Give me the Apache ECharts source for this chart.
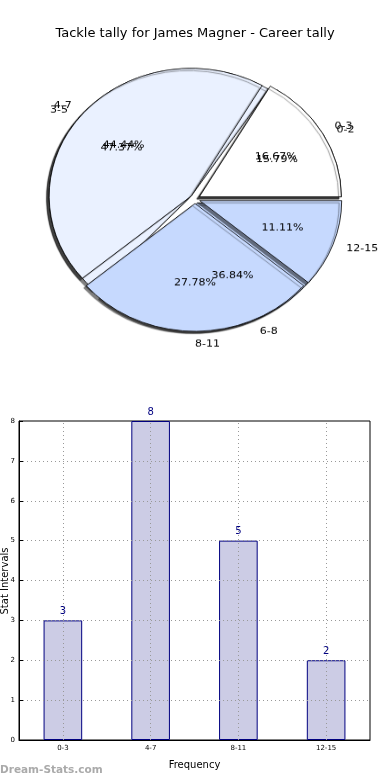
<!DOCTYPE html>
<html>
<head>
<meta charset="utf-8">
<script src="https://cdn.jsdelivr.net/npm/echarts@6/dist/echarts.min.js"></script>
<style>
html,body{margin:0;padding:0;background:#fff;}
#main{position:absolute;left:0;top:0;width:390px;height:780px;}
#pie{position:absolute;left:0;top:0;width:390px;height:400px;transform:scaleY(0.9);transform-origin:195px 199px;}
</style>
</head>
<body>
<div id="main"></div>
<div id="pie"></div>
<script>
const titleText = 'Tackle tally for James Magner - Career tally';
const pieLabels4 = ['0-3', '4-7', '8-11', '12-15'];
const pieValues4 = [3, 8, 5, 2];
const pieLabels3 = ['0-2', '3-5', '6-8'];
const pieValues3 = [3, 9, 7];
const barCategories = ['0-3', '4-7', '8-11', '12-15'];
const barValues = [3, 8, 5, 2];
const xAxisName = 'Frequency';
const yAxisName = 'Stat Intervals';

const FONT = 'DejaVu Sans';
const pieColors = ['#ffffff', '#eaf1ff', '#c6d9fe', '#c6d9fe'];
const R = 142;
const CENTER = [195, 199];

function mkPie(labels, values, leftAlignIndex) {
  return {
    type: 'pie',
    center: CENTER,
    radius: [0, R],
    startAngle: 0,
    clockwise: false,
    selectedMode: 'multiple',
    selectedOffset: 5,
    avoidLabelOverlap: false,
    animation: false,
    emphasis: { disabled: true },
    data: labels.map((n, i) => ({ name: n, value: values[i], selected: true, itemStyle: { color: pieColors[i] } })),
    itemStyle: {
      borderColor: '#000', borderWidth: 0.8,
      shadowColor: 'rgba(0,0,0,0.5)', shadowBlur: 1, shadowOffsetX: -2.5, shadowOffsetY: 2.5
    },
    label: { show: true, position: 'outside', formatter: '{b}', color: '#000', fontSize: 11, fontFamily: FONT, distanceToLabelLine: 0 },
    labelLine: { show: false, length: 14, length2: 0 },
    labelLayout: function (p) {
      if (p.dataIndex === leftAlignIndex) return { hideOverlap: false, align: 'left' };
      return { hideOverlap: false };
    }
  };
}
function mkPct(labels, values) {
  return {
    type: 'pie',
    center: CENTER,
    radius: [R * 0.2, R],
    startAngle: 0,
    clockwise: false,
    selectedMode: 'multiple',
    selectedOffset: 5,
    avoidLabelOverlap: false,
    animation: false,
    silent: true,
    emphasis: { disabled: true },
    data: labels.map((n, i) => ({ name: n, value: values[i], selected: true })),
    itemStyle: { color: 'rgba(0,0,0,0)', borderWidth: 0 },
    label: { show: true, position: 'inside', formatter: '{d}%', color: '#000', fontSize: 11, fontFamily: FONT },
    labelLine: { show: false },
    labelLayout: { hideOverlap: false }
  };
}

const pie = echarts.init(document.getElementById('pie'), null, { renderer: 'canvas' });
pie.setOption({
  animation: false,
  series: [mkPie(pieLabels3, pieValues3, -1), mkPie(pieLabels4, pieValues4, 2), mkPct(pieLabels3, pieValues3), mkPct(pieLabels4, pieValues4)]
});

const main = echarts.init(document.getElementById('main'), null, { renderer: 'canvas' });
main.setOption({
  animation: false,
  title: {
    text: titleText, left: 'center', top: 22,
    textStyle: { fontFamily: FONT, fontSize: 13, fontWeight: 'normal', color: '#000' }
  },
  graphic: [{
    type: 'text', left: 0, top: 765,
    style: { text: 'Dream-Stats.com', fill: '#aaaaaa', font: 'bold 10.5px "DejaVu Sans"' }
  }, {
    type: 'text', x: 5, y: 581, rotation: Math.PI / 2,
    style: { text: yAxisName, fill: '#000', font: '10px "DejaVu Sans"', align: 'center', verticalAlign: 'middle' }
  }],
  grid: {
    left: 19, right: 20, top: 421, bottom: 40,
    containLabel: false, outerBoundsMode: 'none',
    show: true, borderColor: '#000', borderWidth: 1, backgroundColor: 'transparent'
  },
  xAxis: {
    type: 'category',
    data: barCategories,
    axisLine: { show: true, lineStyle: { color: '#000', width: 1 } },
    axisTick: { show: true, alignWithLabel: true, inside: true, length: 4, lineStyle: { color: '#000' } },
    axisLabel: { fontFamily: FONT, fontSize: 7, color: '#000', margin: 5 },
    splitLine: { show: false },
    name: xAxisName, nameLocation: 'middle', nameGap: 20,
    nameTextStyle: { fontFamily: FONT, fontSize: 10, color: '#000' }
  },
  yAxis: {
    type: 'value', min: 0, max: 8, interval: 1, z: 5,
    axisLine: { show: true, lineStyle: { color: '#000', width: 1 } },
    axisTick: { show: true, inside: true, length: 4, lineStyle: { color: '#000' } },
    axisLabel: { fontFamily: FONT, fontSize: 7, color: '#000', margin: 4 },
    splitLine: { show: true, showMinLine: false, showMaxLine: false, lineStyle: { type: [1, 3], color: '#999', width: 1 } }
  },
  series: [{
    type: 'bar',
    data: barValues,
    barWidth: '44%',
    itemStyle: { color: '#ccccE5', borderColor: '#000080', borderWidth: 1 },
    label: { show: true, position: 'top', color: '#000080', fontFamily: FONT, fontSize: 10, distance: 4 },
    markLine: {
      silent: true, symbol: 'none', animation: false,
      label: { show: false },
      lineStyle: { type: [1, 3], color: '#999', width: 1 },
      data: barCategories.map(c => ({ xAxis: c }))
    }
  }]
});
</script>
</body>
</html>
